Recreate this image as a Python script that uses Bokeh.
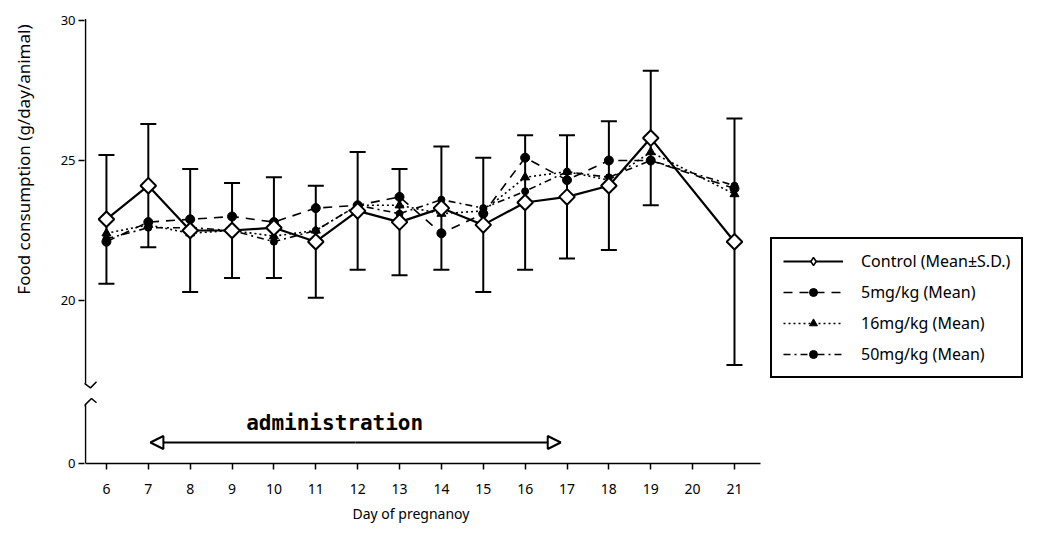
import numpy as np
from bokeh.plotting import figure
from bokeh.models import (ColumnDataSource, Whisker, TeeHead, FixedTicker, Legend,
                          LegendItem, Label, Arrow, NormalHead, Range1d, Title,
                          CDSView, IndexFilter)
from bokeh.embed import file_html
from bokeh.resources import INLINE

# ---------------- data ----------------
days = [6, 7, 8, 9, 10, 11, 12, 13, 14, 15, 16, 17, 18, 19, 21]
control_mean = [22.9, 24.1, 22.5, 22.5, 22.6, 22.1, 23.2, 22.8, 23.3, 22.7, 23.5, 23.7, 24.1, 25.8, 22.1]
control_sd = [2.3, 2.2, 2.2, 1.7, 1.8, 2.0, 2.1, 1.9, 2.2, 2.4, 2.4, 2.2, 2.3, 2.4, 4.4]
mg5_mean = [22.1, 22.8, 22.9, 23.0, 22.8, 23.3, 23.4, 23.7, 22.4, 23.1, 25.1, 24.3, 25.0, 25.0, 24.0]
mg16_mean = [22.4, 22.7, 22.4, 22.5, 22.3, 22.5, 23.4, 23.4, 23.1, 23.2, 24.4, 24.6, 24.3, 25.3, 23.8]
mg50_mean = [22.2, 22.6, 22.6, 22.5, 22.1, 22.5, 23.4, 23.1, 23.6, 23.3, 23.9, 24.6, 24.4, 25.0, 24.1]

x_tick_days = list(range(6, 22))
y_tick_values = [0, 20, 25, 30]
y_tick_labels = ["0", "20", "25", "30"]

admin_start_day = 7.05
admin_end_day = 16.85
admin_text = "administration"

series_labels = ["Control (Mean\u00b1S.D.)", "5mg/kg (Mean)", "16mg/kg (Mean)", "50mg/kg (Mean)"]

# ------------- broken axis mapping -------------
ZERO_POS = 14.18      # display position of the value 0 (axis is broken below 17)
def ypos(v):
    return v if v >= 17 else ZERO_POS + v * 0.05

PX_PER_DAY = 41.87
AXIS_X = 5.5
X_END = 21.62
FRAME_LEFT = 84
FRAME_W = 1039 - FRAME_LEFT
x_start = AXIS_X - 1 / PX_PER_DAY

p = figure(width=1039, height=534,
           x_range=Range1d(x_start, x_start + FRAME_W / PX_PER_DAY),
           y_range=Range1d(ZERO_POS, 30.07),
           output_backend="svg", toolbar_location=None, title=None,
           min_border_left=FRAME_LEFT, min_border_right=0, min_border_top=18, min_border_bottom=71)
p.grid.visible = False
p.outline_line_color = None
p.background_fill_color = "white"
p.border_fill_color = "white"

# ---------- x axis ----------
xa = p.xaxis[0]
xa.ticker = FixedTicker(ticks=x_tick_days)
xa.bounds = (AXIS_X, X_END)
xa.axis_line_width = 1.5
xa.axis_line_color = "black"
xa.major_tick_in = 0
xa.major_tick_out = 6
xa.major_tick_line_width = 1.5
xa.minor_tick_line_color = None
xa.major_label_text_font = "Noto Sans"
xa.major_label_text_font_size = "14px"
xa.major_label_text_color = "black"
xa.major_label_standoff = 14

p.add_layout(Title(text="Day of pregnanoy", align="left", vertical_align="middle",
                   offset=352 - FRAME_LEFT, standoff=12,
                   text_font="Noto Sans", text_font_style="normal", text_font_size="14px",
                   text_color="black"), "below")

# ---------- y axis (line drawn by hand to show the break) ----------
ya = p.yaxis[0]
ytick_pos = [ypos(v) for v in y_tick_values]
ya.ticker = FixedTicker(ticks=ytick_pos)
ya.major_label_overrides = {tp: lab for tp, lab in zip(ytick_pos, y_tick_labels)}
ya.axis_line_color = None
ya.major_tick_in = 0
ya.major_tick_out = 6
ya.major_tick_line_width = 1.5
ya.minor_tick_line_color = None
ya.major_label_text_font = "Noto Sans"
ya.major_label_text_font_size = "13px"
ya.major_label_text_color = "black"
ya.major_label_standoff = 3
# blank spacer label: keeps a gap between the tick labels and the title
ya.axis_label = " "
ya.axis_label_text_font_size = "1px"
ya.axis_label_standoff = 8

p.add_layout(Title(text="Food consumption (g/day/animal)", align="right", vertical_align="middle",
                   offset=6, standoff=20,
                   text_font="Noto Sans", text_font_style="normal", text_font_size="17px",
                   text_color="black"), "left")

p.segment(x0=[AXIS_X, AXIS_X], y0=[17.04, ZERO_POS], x1=[AXIS_X, AXIS_X], y1=[30.05, 16.3],
          line_color="black", line_width=1.5)
d = 1 / PX_PER_DAY
p.line([AXIS_X - 7 * d, AXIS_X - 1 * d, AXIS_X + 5 * d, AXIS_X + 11 * d],
       [16.82, 17.04, 16.88, 17.1], line_color="black", line_width=1.5)
p.line([AXIS_X - 4 * d, AXIS_X + 6 * d, AXIS_X + 11 * d],
       [16.15, 16.5, 16.35], line_color="black", line_width=1.5)

# ---------- data series ----------
src = ColumnDataSource(dict(day=days, ctrl=control_mean,
                            upper=[m + s for m, s in zip(control_mean, control_sd)],
                            lower=[m - s for m, s in zip(control_mean, control_sd)],
                            m5=mg5_mean, m16=mg16_mean, m50=mg50_mean))

l5 = p.line("day", "m5", source=src, line_color="black", line_width=1.6, line_dash="9 7")
s5 = p.scatter("day", "m5", source=src, marker="circle", size=9, fill_color="black", line_color="black")
l16 = p.line("day", "m16", source=src, line_color="black", line_width=1.6, line_dash="2 3")
s16 = p.scatter("day", "m16", source=src, marker="triangle", size=9, fill_color="black", line_color="black")
l50 = p.line("day", "m50", source=src, line_color="black", line_width=1.6, line_dash="7 4 2 4")
s50 = p.scatter("day", "m50", source=src, marker="circle", size=7, fill_color="black", line_color="black")

wh = Whisker(base="day", upper="upper", lower="lower", source=src, line_color="black", line_width=2,
             upper_head=TeeHead(size=16, line_width=2, line_color="black"),
             lower_head=TeeHead(size=16, line_width=2, line_color="black"))
p.add_layout(wh)
lc = p.line("day", "ctrl", source=src, line_color="black", line_width=2.2)
# key marker for the legend (a small upright diamond, hidden under the first plotted marker)
sc_key = p.scatter("day", "ctrl", source=src, view=CDSView(filter=IndexFilter(indices=[0])),
                   marker="diamond", size=11, fill_color="white", line_color="black", line_width=1.5)
sc = p.scatter("day", "ctrl", source=src, marker="square", angle=np.pi / 4, size=11,
               fill_color="white", line_color="black", line_width=2)

# administration arrow
mid = (admin_start_day + admin_end_day) / 2
ARROW_Y = 14.93
for end_day in (admin_start_day, admin_end_day):
    p.add_layout(Arrow(x_start=mid, y_start=ARROW_Y, x_end=end_day, y_end=ARROW_Y,
                       line_width=2, line_color="black",
                       end=NormalHead(size=13, fill_color="white", line_color="black", line_width=2)))
p.add_layout(Label(x=mid - 0.5, y=15.62, text=admin_text, text_align="center", text_baseline="middle",
                   text_font="DejaVu Sans Mono", text_font_style="bold",
                   text_font_size="21px", text_color="black"))

# legend
legend = Legend(items=[LegendItem(label=series_labels[0], renderers=[lc, sc_key]),
                       LegendItem(label=series_labels[1], renderers=[l5, s5]),
                       LegendItem(label=series_labels[2], renderers=[l16, s16]),
                       LegendItem(label=series_labels[3], renderers=[l50, s50])],
                location=(770 - FRAME_LEFT, 85), border_line_color="black", border_line_width=2,
                border_line_alpha=1.0,
                glyph_width=60, glyph_height=20, spacing=9, padding=11, margin=0,
                label_standoff=18, label_text_font="Noto Sans", label_text_font_size="16px",
                label_text_color="black", background_fill_color="white", background_fill_alpha=1)
p.add_layout(legend)

open("out.html", "w").write(file_html(p, INLINE))
